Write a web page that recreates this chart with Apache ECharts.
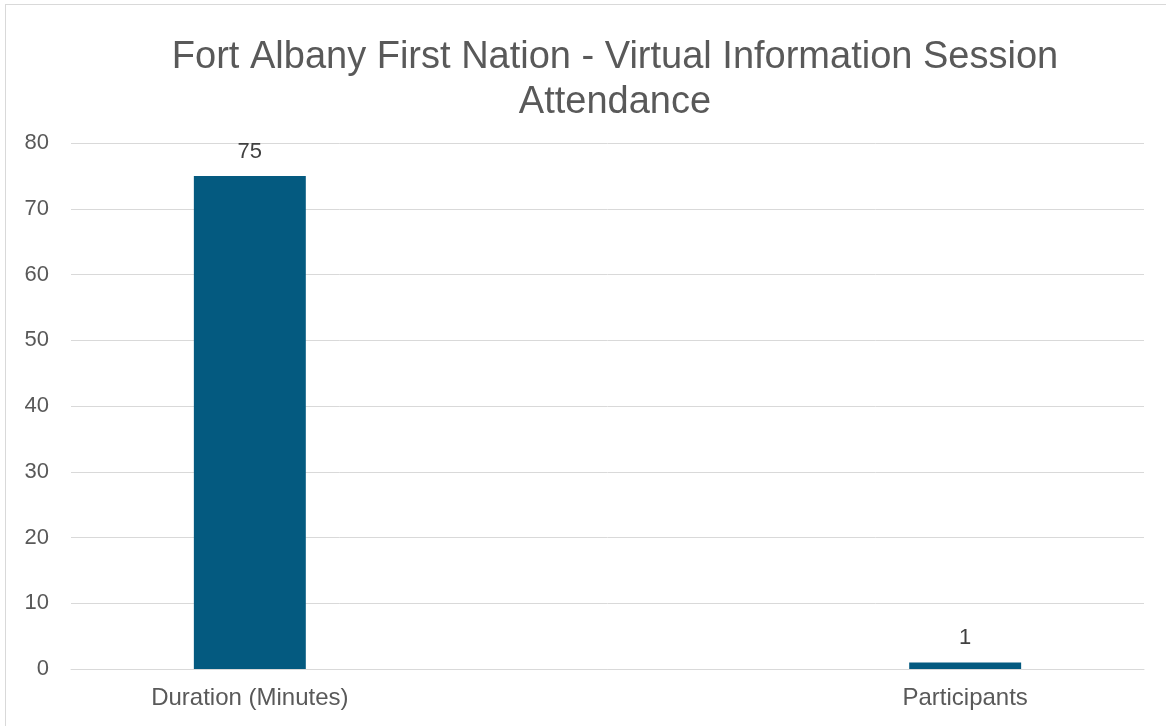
<!DOCTYPE html>
<html>
<head>
<meta charset="utf-8">
<script src="https://cdn.jsdelivr.net/npm/echarts@6/dist/echarts.min.js"></script>
<style>
html,body{margin:0;padding:0;background:#fff;}
#frame{position:absolute;left:5px;top:4px;width:1170px;height:740px;border:1px solid #d9d9d9;box-sizing:border-box;}
#chart{position:absolute;left:0;top:0;width:1166px;height:726px;}
</style>
</head>
<body>
<div id="frame"></div>
<div id="chart"></div>
<script>
const titleText = 'Fort Albany First Nation - Virtual Information Session\nAttendance';
const categories = ['Duration (Minutes)', '', 'Participants'];
const values = [75, null, 1];
const yTicks = { min: 0, max: 80, interval: 10 };

const chart = echarts.init(document.getElementById('chart'));
chart.setOption({
  backgroundColor: 'transparent',
  animation: false,
  title: {
    text: titleText,
    left: 610,
    top: 30,
    textAlign: 'center',
    textStyle: {
      fontFamily: 'Liberation Sans, Arial, sans-serif',
      fontSize: 38,
      fontWeight: 'normal',
      color: '#595959',
      lineHeight: 45
    }
  },
  grid: { left: 71, right: 22, top: 143, bottom: 57, containLabel: false },
  xAxis: {
    type: 'category',
    data: categories,
    axisLine: { show: true, lineStyle: { color: '#d9d9d9', width: 1 } },
    axisTick: { show: false },
    axisLabel: {
      fontFamily: 'Liberation Sans, Arial, sans-serif',
      fontSize: 24,
      color: '#595959',
      margin: 17
    }
  },
  yAxis: {
    type: 'value',
    min: yTicks.min,
    max: yTicks.max,
    interval: yTicks.interval,
    axisLine: { show: false },
    axisTick: { show: false },
    splitLine: { lineStyle: { color: '#d9d9d9', width: 1 } },
    axisLabel: {
      fontFamily: 'Liberation Sans, Arial, sans-serif',
      fontSize: 22,
      color: '#595959',
      margin: 22
    }
  },
  series: [{
    type: 'bar',
    data: values,
    barWidth: '31.3%',
    itemStyle: { color: '#045a80' },
    label: {
      show: true,
      position: 'top',
      distance: 13,
      fontFamily: 'Liberation Sans, Arial, sans-serif',
      fontSize: 22,
      color: '#404040'
    }
  }]
});
</script>
</body>
</html>
